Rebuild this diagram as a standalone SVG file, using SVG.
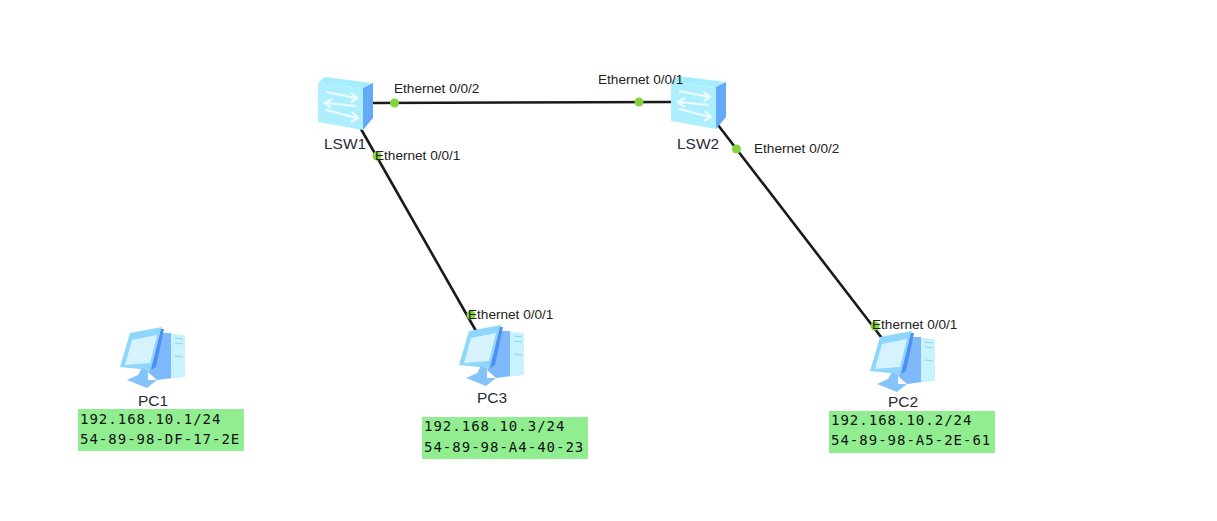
<svg xmlns="http://www.w3.org/2000/svg" xmlns:xlink="http://www.w3.org/1999/xlink" width="1217" height="521" viewBox="0 0 1217 521">
<style>
.lbl{font-family:"Liberation Sans",Arial,sans-serif;font-size:13.6px;fill:#222}
.name{font-family:"Liberation Sans",Arial,sans-serif;font-size:15.5px;fill:#2a2a3a}
.mono{font-family:"DejaVu Sans Mono",monospace;font-size:14px;letter-spacing:1px;fill:#111}
.link{stroke:#1a1a1a;stroke-width:2.6;fill:none}
.dot{fill:#84d23c}
.note{fill:#90ee90}
</style>
<defs>
<g id="sw">
<path d="M6 0 L53 6 L44 11 L-1 6 Z" fill="#a5ecff"/>
<path d="M-1 6 L44 11 L44 53 L-1 45 Z" fill="#aeefff"/>
<path d="M44 11 L54 6 L54 41 L44 53 Z" fill="#62a9f8"/>
<g fill="none" stroke="#eefbff" stroke-width="2.2">
<path d="M7 15 L37 21 M32 16 L38 21 L32 25"/>
<path d="M37 29 L7 26 M13 22 L6 26 L12 31"/>
<path d="M7 33 L38 41 M33 35 L39 41 L32 45"/>
</g>
</g>
<g id="pc">
<path d="M41 6 L64 8 L64 50 L36 53 Z" fill="#c8f2fe"/>
<path d="M41 6 L50 6 L50 51 L36 53 L27 45 Z" fill="#7db9fb"/>
<path d="M54 11 L62 12 M54 16 L62 17 M54 29 L62 30" stroke="#8ed4ee" stroke-width="1" fill="none"/>
<path d="M9 6 L41 0 L36 22 L29 43 L-1 40 Z" fill="#8fd6fd"/>
<path d="M11 13 L36 8 L29 36 L4 38 Z" fill="#d5f2fd"/>
<path d="M40 2 L43 2 L35 40 L30 43 Z" fill="#4d8ff2"/>
<path d="M6 53 L17 48 L21 41 L27 43 L27 53 L36 53 L26 61 Z" fill="#84c4fa"/>
</g>
</defs>
<g id="connectors">
<path class="link" d="M372 103 L672 102"/>
<path class="link" d="M361 129 L476 331"/>
<path class="link" d="M718 125 L888 346"/>
<circle class="dot" cx="394.500" cy="103" r="4.500"/>
<circle class="dot" cx="639" cy="102" r="4.500"/>
<circle class="dot" cx="377" cy="156" r="4.500"/>
<circle class="dot" cx="736.500" cy="149" r="4.500"/>
<circle class="dot" cx="471" cy="315" r="4.500"/>
<circle class="dot" cx="875" cy="326" r="4.500"/>
</g>
<g id="LSW1"><use xlink:href="#sw" href="#sw" x="319" y="77"/><text class="name" x="324" y="149">LSW1</text></g>
<g id="LSW2"><use xlink:href="#sw" href="#sw" x="672" y="76"/><text class="name" x="677" y="149">LSW2</text></g>
<g id="PC1"><use xlink:href="#pc" href="#pc" x="121" y="327"/><text class="name" x="138" y="406">PC1</text>
<rect class="note" x="78" y="409" width="166" height="42"/><text class="mono" x="80" y="424">192.168.10.1/24</text><text class="mono" x="80" y="444">54-89-98-DF-17-2E</text></g>
<g id="PC3"><use xlink:href="#pc" href="#pc" x="460" y="325"/><text class="name" x="477" y="403">PC3</text>
<rect class="note" x="422" y="417" width="166" height="42"/><text class="mono" x="424" y="431">192.168.10.3/24</text><text class="mono" x="424" y="452">54-89-98-A4-40-23</text></g>
<g id="PC2"><use xlink:href="#pc" href="#pc" x="871" y="331"/><text class="name" x="888" y="407">PC2</text>
<rect class="note" x="829" y="411" width="166" height="42"/><text class="mono" x="831" y="425">192.168.10.2/24</text><text class="mono" x="831" y="445">54-89-98-A5-2E-61</text></g>
<g id="port-labels">
<text class="lbl" x="394" y="93">Ethernet 0/0/2</text>
<text class="lbl" x="598" y="84">Ethernet 0/0/1</text>
<text class="lbl" x="375" y="160">Ethernet 0/0/1</text>
<text class="lbl" x="754" y="153">Ethernet 0/0/2</text>
<text class="lbl" x="468" y="319">Ethernet 0/0/1</text>
<text class="lbl" x="872" y="329">Ethernet 0/0/1</text>
</g>
</svg>
